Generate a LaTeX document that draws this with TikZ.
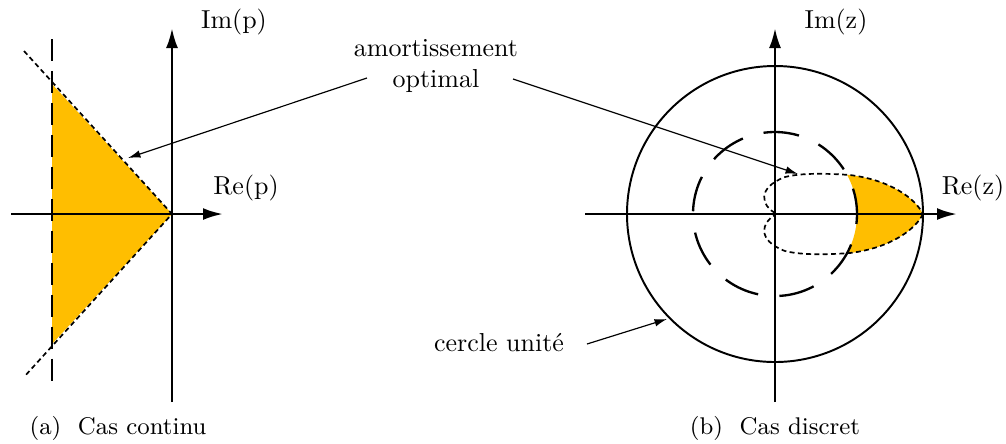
\documentclass[tikz,border=0pt]{standalone}
\usetikzlibrary{arrows.meta,calc}
\definecolor{fillor}{RGB}{255,190,0}
\begin{document}
\begin{tikzpicture}[x=0.385pt,y=-0.385pt,
  axis/.style={line width=1pt,-{Latex[length=7.7pt,width=4.6pt]}},
  ucircle/.style={line width=0.75pt},
  dcircle/.style={line width=0.9pt,dash pattern=on 13.78pt off 8.27pt},
  dline/.style={line width=0.95pt,dash pattern=on 8.5pt off 3.8pt},
  locus/.style={line width=0.65pt,dash pattern=on 1.9pt off 1.3pt},
  conn/.style={line width=0.45pt,-{Latex[length=4.8pt,width=2.9pt]}},
  lbl/.style={inner sep=0pt,font=\fontsize{10}{12}\selectfont},
  captext/.style={inner sep=0pt,font=\fontsize{9.3}{11}\selectfont}]
\useasboundingbox (0,0) rectangle (1006,443);

% ---------- left: continuous case ----------
\coordinate (o1) at (172,214);
\coordinate (ttop) at (52,84);
\coordinate (tbot) at (52,344);
\coordinate (d1a) at (24,51);
\coordinate (d1b) at (24,377);
\fill[fillor] (ttop) -- (o1) -- (tbot) -- cycle;
\draw[dline] (52,39) -- (52,388);
\draw[locus] (d1a) -- (o1) -- (d1b);
\coordinate (x1s) at (11,214);
\coordinate (x1e) at (223,214);
\coordinate (y1s) at (172,402);
\coordinate (y1e) at (172,28);
\draw[axis] (x1s) -- (x1e);
\draw[axis] (y1s) -- (y1e);
\node[lbl] (imp) at (234,22) {Im(p)};
\node[lbl] (rep) at (246,188) {Re(p)};

% ---------- right: discrete case ----------
\coordinate (o2) at (775,214);
\def\upperhalf{(775,213) .. controls (762,206) and (756,188) .. (785,177)
  .. controls (805,172) and (835,174) .. (850,175)
  .. controls (890,180) and (915,198) .. (923,214)}
\def\lowerhalf{(923,214) .. controls (915,230) and (890,248) .. (850,253)
  .. controls (835,254) and (805,256) .. (785,251)
  .. controls (756,240) and (762,222) .. (775,215)}
\begin{scope}
  \clip \upperhalf -- (923,214) .. controls (915,230) and (890,248) .. (850,253)
  .. controls (835,254) and (805,256) .. (785,251)
  .. controls (756,240) and (762,222) .. (775,215) -- cycle;
  \fill[fillor,even odd rule] (600,100) rectangle (960,330) (o2) circle[radius=82];
\end{scope}
\draw[ucircle] (o2) circle[radius=148];
\draw[dcircle] ($(o2)+(7:82)$) arc[start angle=7,end angle=-353,radius=82];
\coordinate (x2s) at (585,214);
\coordinate (x2e) at (957,214);
\coordinate (y2s) at (775,402);
\coordinate (y2e) at (775,28);
\draw[axis] (x2s) -- (x2e);
\draw[axis] (y2s) -- (y2e);
\draw[locus] \upperhalf;
\draw[locus] \lowerhalf;
\draw[locus] (o2) -- (923,214);
\node[lbl] (imz) at (836,22) {Im(z)};
\node[lbl] (rez) at (973,188) {Re(z)};

% ---------- labels and connectors ----------
\node[lbl,align=center] (amort) at (436,66) {amortissement\\optimal};
\coordinate (aoL) at (367,78);
\coordinate (aoR) at (513,79);
\coordinate (tL) at (128,158);
\coordinate (tR) at (798,174);
\draw[conn] (aoL) -- (tL);
\draw[conn] (aoR) -- (tR);
\node[lbl] (cu) at (499,343) {cercle unit\'e};
\coordinate (cuS) at (587,344);
\coordinate (tC) at (667,319);
\draw[conn] (cuS) -- (tC);

\node[captext] (capa) at (118,428) {(a)\ \ Cas continu};
\node[captext] (capb) at (775,428) {(b)\ \ Cas discret};
\end{tikzpicture}
\end{document}
